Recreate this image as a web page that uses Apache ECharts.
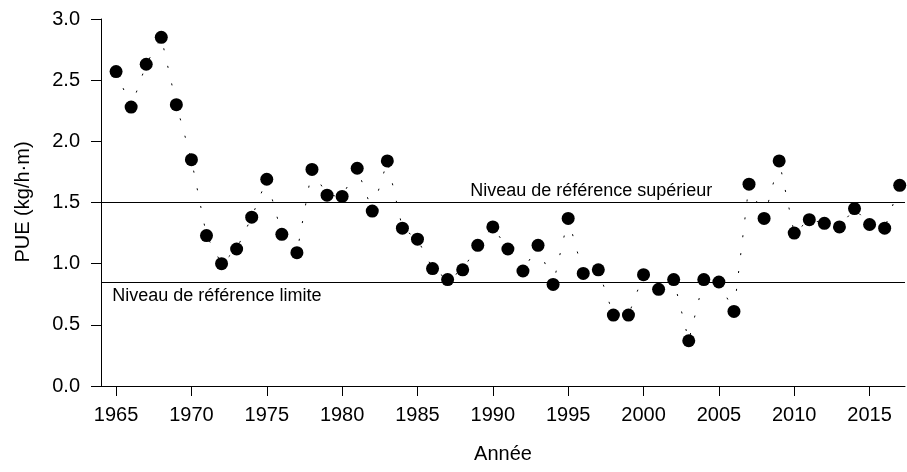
<!DOCTYPE html>
<html>
<head>
<meta charset="utf-8">
<script src="https://cdn.jsdelivr.net/npm/echarts@6/dist/echarts.min.js"></script>
<style>
html,body{margin:0;padding:0;background:#fff;}
#chart{width:907px;height:472px;}
</style>
</head>
<body>
<div id="chart"></div>
<script>
const years = [1965,1966,1967,1968,1969,1970,1971,1972,1973,1974,1975,1976,1977,1978,1979,1980,
  1981,1982,1983,1984,1985,1986,1987,1988,1989,1990,1991,1992,1993,1994,1995,1996,1997,1998,1999,
  2000,2001,2002,2003,2004,2005,2006,2007,2008,2009,2010,2011,2012,2013,2014,2015,2016,2017];
const pue = [2.57,2.28,2.63,2.85,2.30,1.85,1.23,1.00,1.12,1.38,1.69,1.24,1.09,1.77,1.56,1.55,
  1.78,1.43,1.84,1.29,1.20,0.96,0.87,0.95,1.15,1.30,1.12,0.94,1.15,0.83,1.37,0.92,0.95,0.58,0.58,
  0.91,0.79,0.87,0.37,0.87,0.85,0.61,1.65,1.37,1.84,1.25,1.36,1.33,1.30,1.45,1.32,1.29,1.64];
const xTicks = [1965,1970,1975,1980,1985,1990,1995,2000,2005,2010,2015];
const yTicks = [0,0.5,1.0,1.5,2.0,2.5,3.0];
const refUpper = 1.5;
const refLimit = 0.85;
const refUpperLabel = 'Niveau de référence supérieur';
const refLimitLabel = 'Niveau de référence limite';

const FONT = '"Liberation Sans", Arial, sans-serif';
const chart = echarts.init(document.getElementById('chart'), null, {renderer:'canvas'});
chart.setOption({
  animation:false,
  backgroundColor:'#fff',
  textStyle:{fontFamily:FONT, color:'#000'},
  grid:{left:101, right:2, top:19, bottom:86, containLabel:false},
  xAxis:{
    type:'value', min:1964, max:2017.35,
    axisLine:{show:true, onZero:false, lineStyle:{color:'#000', width:1}},
    axisTick:{show:true, inside:false, length:10, customValues:xTicks, lineStyle:{color:'#000'}},
    axisLabel:{customValues:xTicks, margin:19, fontSize:20, color:'#000', fontFamily:FONT,
      formatter:v=>String(v)},
    splitLine:{show:false},
    name:'Année', nameLocation:'middle', nameGap:58,
    nameTextStyle:{fontSize:20, color:'#000', fontFamily:FONT}
  },
  yAxis:{
    type:'value', min:0, max:3, interval:0.5,
    axisLine:{show:true, lineStyle:{color:'#000', width:1}},
    axisTick:{show:true, inside:false, length:10, customValues:yTicks, lineStyle:{color:'#000'}},
    axisLabel:{customValues:yTicks, margin:21, fontSize:20, color:'#000', fontFamily:FONT,
      formatter:v=>Number(v).toFixed(1)},
    splitLine:{show:false}
  },
  series:[{
    type:'line',
    data:years.map((y,i)=>[y,pue[i]]),
    symbol:'circle', symbolSize:13,
    itemStyle:{color:'#000'},
    lineStyle:{color:'#000', width:1, type:[2,16]},
    markLine:{
      silent:true, symbol:['none','none'],
      lineStyle:{color:'#000', width:1, type:'solid'},
      label:{show:false},
      data:[{yAxis:refUpper},{yAxis:refLimit}]
    },
    z:3
  }]
});

const pU = chart.convertToPixel({gridIndex:0}, [1988.5, refUpper]);
const pL = chart.convertToPixel({gridIndex:0}, [1964.75, refLimit]);
chart.setOption({
  graphic:[
    {type:'text', left:pU[0], top:pU[1]-20, style:{text:refUpperLabel, font:'18px '+FONT, fill:'#000'}},
    {type:'text', left:pL[0], top:pL[1]+5, style:{text:refLimitLabel, font:'18px '+FONT, fill:'#000'}},
    {type:'text', x:23, y:202, rotation:Math.PI/2, style:{text:'PUE (kg/h·m)', font:'20px '+FONT, fill:'#000', align:'center', verticalAlign:'middle'}}
  ]
});
</script>
</body>
</html>
